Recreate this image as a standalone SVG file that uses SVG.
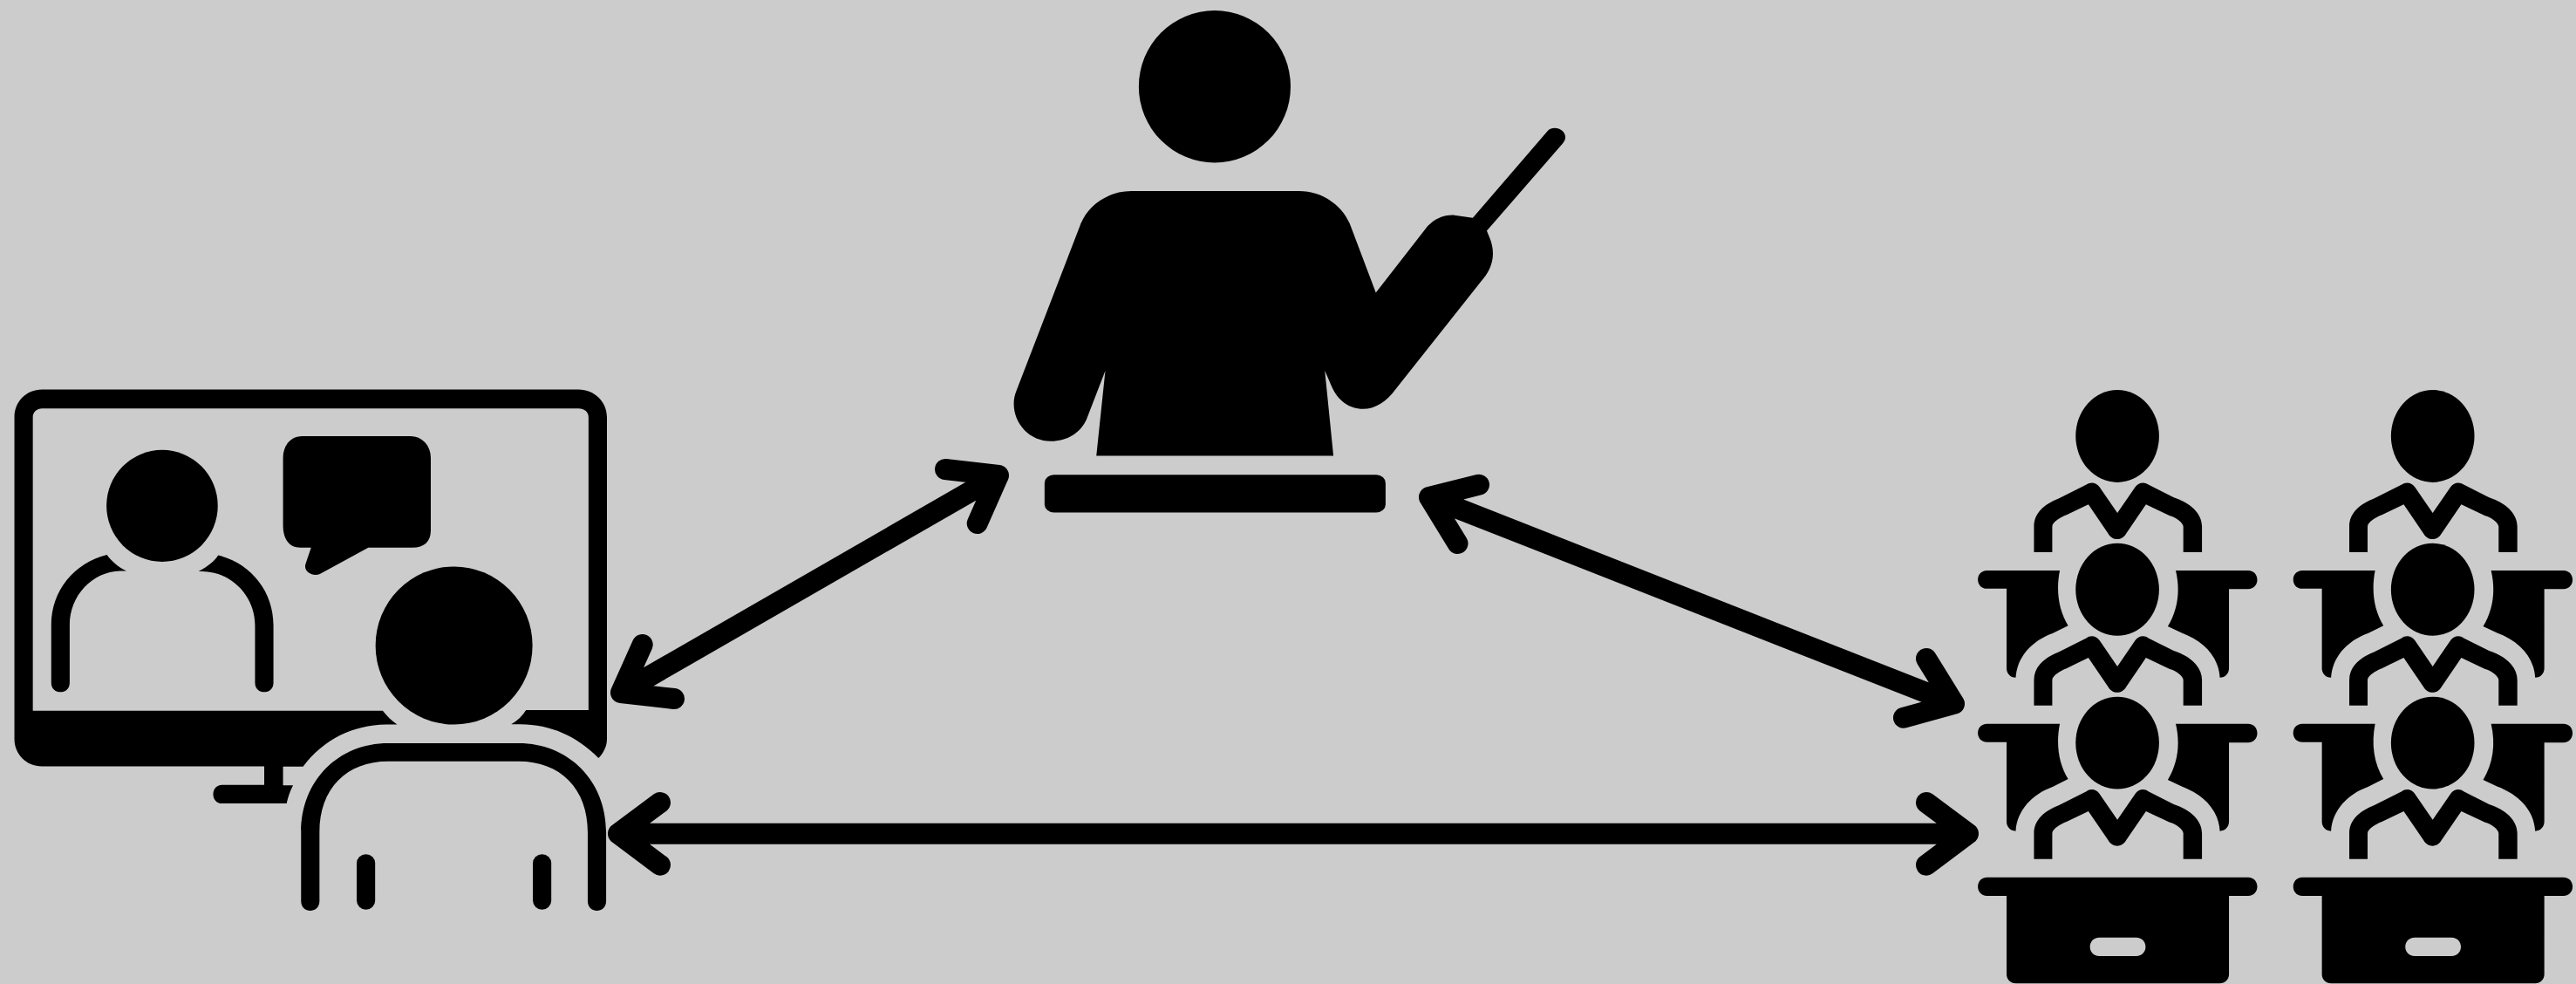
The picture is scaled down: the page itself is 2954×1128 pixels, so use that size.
<svg xmlns="http://www.w3.org/2000/svg" xmlns:xlink="http://www.w3.org/1999/xlink" width="2954" height="1128" viewBox="0 0 2954 1128">
<style>
.ink{fill:#000;fill-rule:evenodd}
.arrow{fill:none;stroke:#000;stroke-width:24;stroke-linecap:round;stroke-linejoin:round}
</style>
<defs>
<g id="student">
<ellipse class="ink" cx="413" cy="157" rx="105" ry="119"/>
<path class="ink" d="M203,456V390C203,355 230,332 265,318L335,282C345,274 360,276 368,288L413,355L458,288C466,276 481,274 491,282L555,315C595,328 626,355 626,390V456H579V390C579,380 560,366 545,362L485,333L435,408C425,427 400,427 390,408L340,333L285,360C270,366 249,378 249,390V456Z"/>
</g>
<g id="desk-wing">
<path class="ink" d="M85,503H268C258,555 265,605 289,645L250,665C200,683 160,725 157,779C143,778 134,768 134,755V550H85C54,550 54,503 85,503Z"/>
<path class="ink" d="M560,503H742C773,503 773,551 742,551H694V755C694,768 685,778 671,779C668,725 630,685 575,664L540,647C565,605 572,555 560,503Z"/>
</g>
<g id="column">
<use href="#student"/>
<use href="#desk-wing"/>
<use href="#student" y="395"/>
<use href="#desk-wing" y="395"/>
<use href="#student" y="790"/>
<path class="ink" d="M85,1293H742C773,1293 773,1341 742,1341H694V1543C694,1556 684,1566 671,1566H157C144,1566 134,1556 134,1543V1341H85C54,1341 54,1293 85,1293ZM368,1448C336,1448 336,1496 368,1496H460C492,1496 492,1448 460,1448Z"/>
</g>
</defs>
<rect width="2954" height="1128" fill="#cccccc"/>
<g id="connectors">
<path class="arrow" d="M1084,538L1145,545L1120.7,600M1145,545L712,794M736.7,739L712,794L773,801"/>
<path class="arrow" d="M1696,555.7L1639,570L1671.5,623M1639,570L2241,806.7M2209,755L2241,806.7L2183,822.7"/>
<path class="arrow" d="M757,920L709,955.7L757,991.7M709,955.7H2257M2209,920L2257,955.7L2209,991.7"/>
</g>
<g id="teacher" transform="translate(1130 0) scale(.4464 .3891)">
<ellipse class="ink" cx="589" cy="255" rx="195" ry="224"/>
<path class="ink" d="M375,563H805C870,563 920,610 938,665L1003,862L1132,672C1150,645 1180,632 1205,634L1252,642L1445,385C1460,368 1490,380 1490,405C1490,412 1485,420 1482,424L1288,680L1295,700C1310,740 1305,780 1285,812L1055,1145C1030,1185 1000,1205 970,1205C935,1205 905,1180 890,1140L872,1092L894,1343H285L308,1092L260,1235C245,1275 210,1300 168,1300C115,1300 73,1250 73,1190C73,1175 75,1165 80,1150L243,665C260,610 310,563 375,563Z"/>
<rect class="ink" x="152" y="1399" width="876" height="111" rx="24" ry="24"/>
</g>
<g id="online-learner" transform="translate(0 430) scale(.4591 .3954)">
<path class="ink" d="M105,42H1445C1485,42 1516,78 1516,122V1055C1516,1075 1508,1095 1495,1110C1440,1045 1375,1013 1300,1012H1277C1292,1002 1305,988 1314,971H1470V122C1470,108 1460,97 1445,97H105C92,97 82,108 82,122V973H956C966,988 978,1002 992,1013H965C880,1015 810,1055 757,1135H707V1189H732C724,1207 719,1224 716,1242H555C525,1242 525,1188 555,1188H660V1134H105C65,1134 36,1098 36,1055V122C36,78 65,42 105,42Z"/>
<ellipse class="ink" cx="405" cy="379" rx="139" ry="162"/>
<path class="ink" d="M267,521C277,538 295,556 316,568H300C230,570 174,640 174,725V892C174,928 128,928 128,892V725C128,625 185,545 267,521Z"/>
<path class="ink" d="M545,522C535,540 517,556 496,569H505C578,570 637,640 637,725V892C637,928 683,928 683,892V725C683,625 625,545 545,522Z"/>
<path class="ink" d="M755,177H1025C1055,177 1076,205 1076,240V450C1076,482 1060,500 1030,500H920L800,576C782,586 755,570 764,545L777,500H750C722,500 707,475 707,435V240C707,205 725,177 755,177Z"/>
<ellipse class="ink" cx="1134" cy="784" rx="196" ry="229"/>
<path class="ink" d="M970,1067H1295C1420,1067 1514,1175 1514,1325V1525C1514,1562 1468,1562 1468,1525V1325C1468,1200 1400,1120 1295,1120H970C865,1120 798,1200 798,1325V1525C798,1562 752,1562 752,1525V1325C752,1175 845,1067 970,1067Z"/>
<rect class="ink" x="891" y="1389" width="46" height="161" rx="23" ry="26"/>
<rect class="ink" x="1331" y="1389" width="46" height="161" rx="23" ry="26"/>
</g>
<g id="class-left" transform="translate(2240 430) scale(.4554 .4452)">
<use href="#column"/>
</g>
<g id="class-right" transform="translate(2601.6 430) scale(.4554 .4452)">
<use href="#column"/>
</g>
</svg>
